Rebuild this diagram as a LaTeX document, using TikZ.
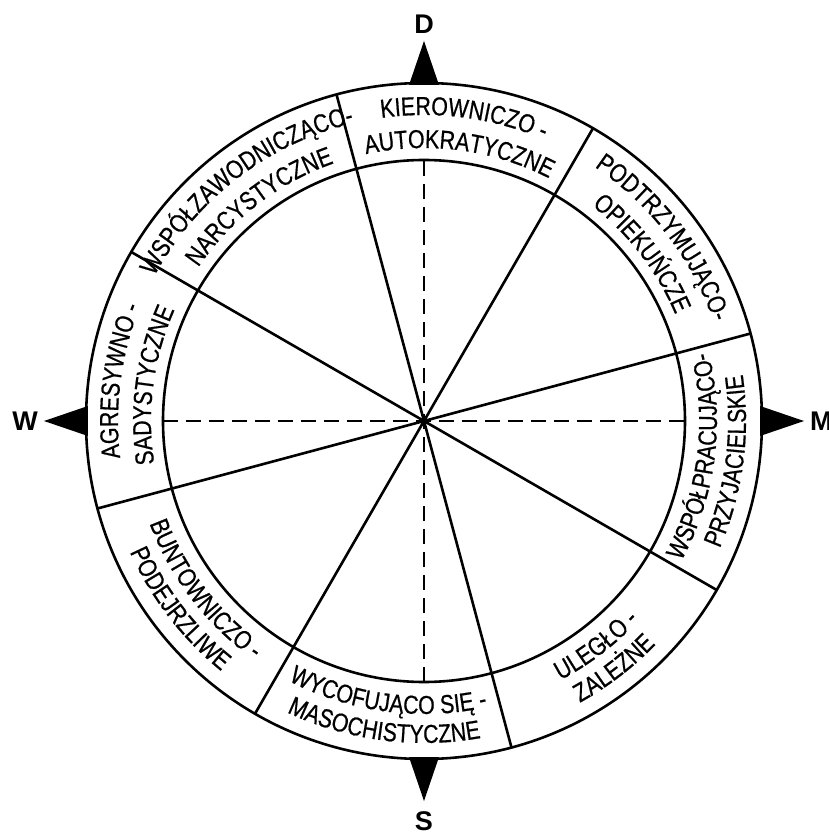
\documentclass[tikz,border=0pt]{standalone}
\usepackage{fontspec}
\setmainfont{Liberation Sans}
\newfontfamily\ringfont[FakeStretch=0.82,FakeBold=0.6]{Liberation Sans}
\usetikzlibrary{decorations.text}

\newcommand{\ringtext}{\ringfont\fontsize{26}{26}\selectfont}
% clockwise arc: letters stand with their tops outward
\newcommand{\labup}[3]{%
  \pgfmathsetmacro{\angA}{#1+30}\pgfmathsetmacro{\angB}{#1-30}%
  \path[decorate,decoration={text along path,text align=center,text={|\ringtext|#3}}]
    (\angA:#2) arc[start angle=\angA,end angle=\angB,radius=#2];}
% counterclockwise arc: letters stand with their tops inward
\newcommand{\labdown}[3]{%
  \pgfmathsetmacro{\angA}{#1-30}\pgfmathsetmacro{\angB}{#1+30}%
  \path[decorate,decoration={text along path,text align=center,text={|\ringtext|#3}}]
    (\angA:#2) arc[start angle=\angA,end angle=\angB,radius=#2];}

\begin{document}
\begin{tikzpicture}[x=1pt,y=1pt,
    ring/.style={line width=2.6pt},
    axis/.style={line width=1.9pt,dash pattern=on 15pt off 8pt},
    compass/.style={font=\bfseries\fontsize{27}{27}\selectfont,inner sep=0pt}]
  \useasboundingbox (-424,-414) rectangle (404,421);
  \coordinate (O) at (0,0);
  % the two rings
  \draw[ring] (O) circle[radius=338];
  \draw[ring] (O) circle[radius=261];
  % sector borders
  \foreach \a in {15,60,...,330}
    \draw[ring] (O) -- (\a:338);
  % dashed axes
  \draw[axis] (-261,0) -- (261,0);
  \draw[axis] (0,-261) -- (0,261);
  \fill (O) circle[radius=4];
  % compass points
  \fill (-15,336) -- (0,380) -- (15,336) -- cycle;
  \fill (-15,-336) -- (0,-380) -- (15,-336) -- cycle;
  \fill (-336,15) -- (-380,0) -- (-336,-15) -- cycle;
  \fill (336,15) -- (380,0) -- (336,-15) -- cycle;
  \node[compass] (nD) at (0,397) {D};
  \node[compass] (nS) at (0,-400) {S};
  \node[compass,anchor=east] (nW) at (-386,0) {W};
  \node[compass,anchor=west] (nM) at (386,0) {M};
  % upper sectors
  \labup{82.5}{306}{KIEROWNICZO -}
  \labup{82.5}{273}{AUTOKRATYCZNE}
  \labup{37.5}{306}{PODTRZYMUJĄCO-}
  \labup{37.5}{273}{OPIEKUŃCZE}
  \labup{127.5}{306}{WSPÓŁZAWODNICZĄCO-}
  \labup{127.5}{273}{NARCYSTYCZNE}
  \labup{172.5}{306}{AGRESYWNO -}
  \labup{172.5}{273}{SADYSTYCZNE}
  % lower sectors
  \labdown{-7.5}{293}{WSPÓŁPRACUJĄCO-}
  \labdown{-7.5}{322}{PRZYJACIELSKIE}
  \labdown{-52.5}{293}{ULEGŁO -}
  \labdown{-52.5}{322}{ZALEŻNE}
  \labdown{-97.5}{293}{WYCOFUJĄCO SIĘ -}
  \labdown{-97.5}{322}{MASOCHISTYCZNE}
  \labdown{-142.5}{293}{BUNTOWNICZO -}
  \labdown{-142.5}{322}{PODEJRZLIWE}
\end{tikzpicture}
\end{document}
